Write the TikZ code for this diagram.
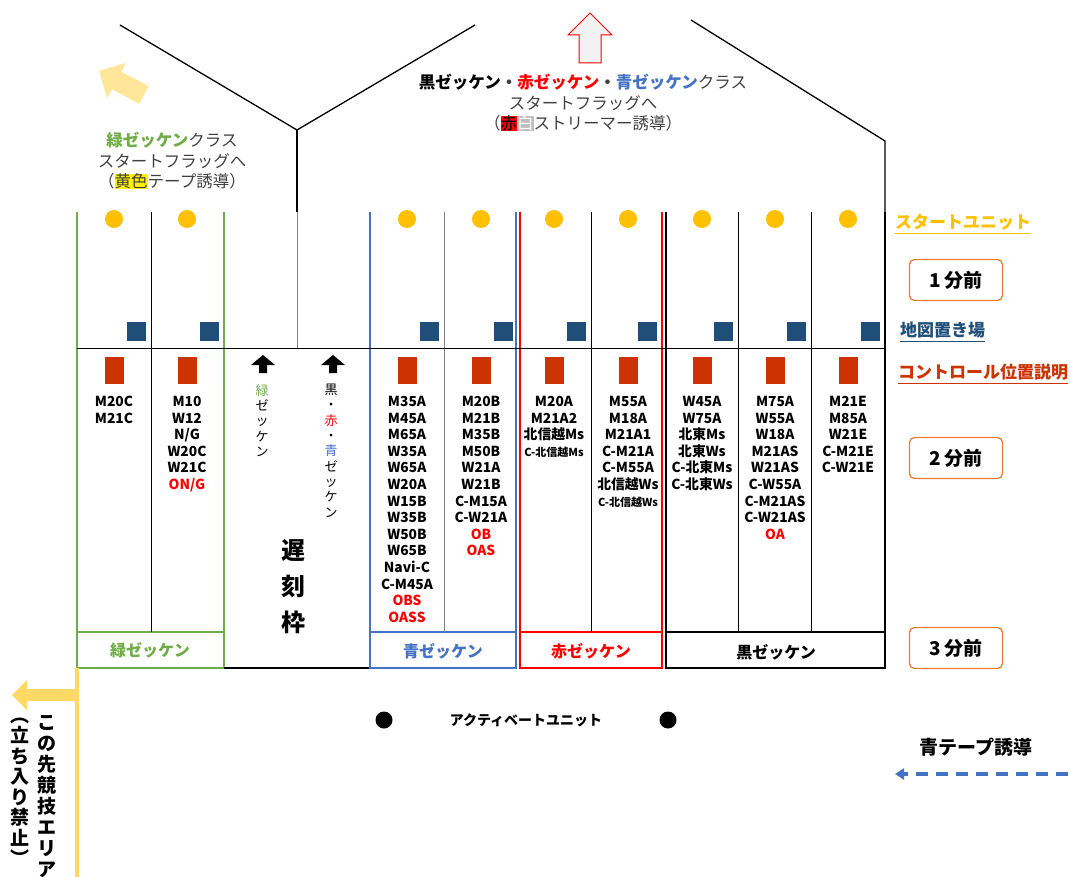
\documentclass[tikz,border=0pt]{standalone}
\usepackage{fontspec}
\setmainfont{Noto Sans CJK JP}
\usetikzlibrary{arrows.meta}
\definecolor{unityellow}{HTML}{FFC000}
\definecolor{mapnavy}{HTML}{1F4E79}
\definecolor{ctrlred}{HTML}{CC3300}
\definecolor{greenz}{HTML}{70AD47}
\definecolor{bluez}{HTML}{4472C4}
\definecolor{redz}{HTML}{FF0000}
\definecolor{minorange}{HTML}{ED7D31}
\definecolor{tapeyellow}{HTML}{FFD966}
\definecolor{flagyellow}{HTML}{FFE699}
\definecolor{textgray}{HTML}{404040}
\tikzset{
  unit/.style={circle,fill=unityellow,minimum size=18pt,inner sep=0pt},
  mapbox/.style={fill=mapnavy,minimum size=19pt,inner sep=0pt},
  ctrlbox/.style={fill=ctrlred,minimum width=19pt,minimum height=27pt,inner sep=0pt},
  classlist/.style={anchor=north,align=center,inner sep=0pt,font=\bfseries\fontsize{13.8}{16.6}\selectfont},
  minbox/.style={draw=minorange,line width=1.3pt,rounded corners=5pt,minimum width=93pt,minimum height=41pt,font=\bfseries\fontsize{19}{19}\selectfont},
  sidelabel/.style={anchor=west,inner sep=0pt,font=\bfseries\fontsize{17}{17}\selectfont},
  zlabel/.style={font=\bfseries\fontsize{16}{16}\selectfont},
  vtext/.style={anchor=north,align=center,inner sep=0pt,font=\fontsize{13}{15.3}\selectfont},
  wall/.style={line width=1.2pt}
}
\setlength{\fboxsep}{0pt}
\begin{document}
\begin{tikzpicture}[x=1pt,y=-1pt]
\useasboundingbox (0,0) rectangle (1070,877);

% roof and flag arrows
\draw[line width=1.3pt] (120,25) -- (297,130) -- (475,25);
\draw[line width=1.3pt] (297,130) -- (297,212);
\draw[line width=1.3pt] (691,20) -- (885,141) -- (885,212);
\filldraw[draw=redz,fill=black!5,line width=1pt] (590,13) -- (612,35) -- (601,35) -- (601,63) -- (579,63) -- (579,35) -- (568,35) -- cycle;
\fill[flagyellow] (99,71) -- (126,62.8) -- (121.3,71.6) -- (148.7,86.2) -- (139.3,103.8) -- (111.9,89.2) -- (107.2,98) -- cycle;

\node[align=center,font=\fontsize{16.5}{20.5}\selectfont,text=textgray] (greenflag) at (172,161)
  {\textbf{\textcolor{greenz}{緑ゼッケン}}クラス\\スタートフラッグへ\\（\colorbox{yellow}{黄色}テープ誘導）};
\node[align=center,font=\fontsize{16.5}{20.5}\selectfont,text=textgray] (mainflag) at (583,103)
  {\textbf{\textcolor{black}{黒ゼッケン}・\textcolor{redz}{赤ゼッケン}・\textcolor{bluez}{青ゼッケン}}クラス\\スタートフラッグへ\\（\colorbox{redz}{\textcolor{black}{赤}}\colorbox{black!25}{\textcolor{white}{白}}ストリーマー誘導）};

% lanes
\draw[greenz,wall] (77,212) -- (77,668) -- (224,668) -- (224,212);
\draw[greenz,wall] (77,632) -- (224,632);
\draw (151,212) -- (151,632);
\draw[gray] (297,212) -- (297,348);
\draw[wall] (224,668) -- (370,668);
\draw[bluez,wall] (370,212) -- (370,668) -- (516,668) -- (516,212);
\draw[bluez,wall] (370,632) -- (516,632);
\draw[gray] (444,212) -- (444,632);
\draw[redz,wall] (520,212) -- (520,668) -- (662,668) -- (662,212);
\draw[redz,wall] (520,632) -- (662,632);
\draw (591,212) -- (591,632);
\draw[wall] (666,212) -- (666,668) -- (885,668) -- (885,212);
\draw[wall] (666,632) -- (885,632);
\draw (738,212) -- (738,632);
\draw (811,212) -- (811,632);
\draw (77,348) -- (885,348);

\foreach \x/\n in {114/1,187/2,407/5,481/6,554/7,628/8,702/9,775/10,848/11}{
  \node[unit] (unit\n) at (\x,219) {};
  \node[ctrlbox] (ctrl\n) at (\x,370.5) {};
}
\foreach \x/\n in {146/1,219/2,439/5,513/6,586/7,657/8,733/9,806/10,880/11}
  \node[mapbox,anchor=north east] (map\n) at (\x,322) {};

% class lists
\node[classlist] (list1) at (114,396) {M20C\\M21C};
\node[classlist] (list2) at (187,396) {M10\\W12\\N/G\\W20C\\W21C\\\textcolor{redz}{ON/G}};
\node[classlist] (list5) at (407,396) {M35A\\M45A\\M65A\\W35A\\W65A\\W20A\\W15B\\W35B\\W50B\\W65B\\Navi-C\\C-M45A\\\textcolor{redz}{OBS}\\\textcolor{redz}{OASS}};
\node[classlist] (list6) at (481,396) {M20B\\M21B\\M35B\\M50B\\W21A\\W21B\\C-M15A\\C-W21A\\\textcolor{redz}{OB}\\\textcolor{redz}{OAS}};
\node[classlist] (list7) at (554,396) {M20A\\M21A2\\北信越Ms\\{\fontsize{11}{15}\selectfont C-北信越Ms}};
\node[classlist] (list8) at (628,396) {M55A\\M18A\\M21A1\\C-M21A\\C-M55A\\北信越Ws\\{\fontsize{11}{15}\selectfont C-北信越Ws}};
\node[classlist] (list9) at (702,396) {W45A\\W75A\\北東Ms\\北東Ws\\C-北東Ms\\C-北東Ws};
\node[classlist] (list10) at (775,396) {M75A\\W55A\\W18A\\M21AS\\W21AS\\C-W55A\\C-M21AS\\C-W21AS\\\textcolor{redz}{OA}};
\node[classlist] (list11) at (848,396) {M21E\\M85A\\W21E\\C-M21E\\C-W21E};

% late start lane
\fill (263,355) -- (275,365) -- (267,365) -- (267,373) -- (259,373) -- (259,365) -- (251,365) -- cycle;
\fill (333,355) -- (345,365) -- (337,365) -- (337,373) -- (329,373) -- (329,365) -- (321,365) -- cycle;
\node[vtext] (lategreen) at (262,384) {\textcolor{greenz}{緑}\\ゼ\\ッ\\ケ\\ン};
\node[vtext] (lateother) at (331,384) {黒\\・\\\textcolor{redz}{赤}\\・\\\textcolor{bluez}{青}\\ゼ\\ッ\\ケ\\ン};
\node[align=center,font=\bfseries\fontsize{24}{36}\selectfont] (late) at (293,587) {遅\\刻\\枠};

\node[zlabel,text=greenz] (greenlbl) at (150,650) {緑ゼッケン};
\node[zlabel,text=bluez] (bluelbl) at (443,651) {青ゼッケン};
\node[zlabel,text=redz] (redlbl) at (591,651) {赤ゼッケン};
\node[zlabel] (blacklbl) at (776,652) {黒ゼッケン};

% right side legend
\node[sidelabel,text=unityellow] (startunit) at (895,222) {スタートユニット};
\draw[unityellow,line width=1pt] ([yshift=-3pt]startunit.south west) -- ([yshift=-3pt]startunit.south east);
\node[sidelabel,text=mapnavy] (maplegend) at (900,330) {地図置き場};
\draw[mapnavy,line width=1pt] ([yshift=-3pt]maplegend.south west) -- ([yshift=-3pt]maplegend.south east);
\node[sidelabel,text=ctrlred] (ctrllegend) at (898,372) {コントロール位置説明};
\draw[ctrlred,line width=1pt] ([yshift=-3pt]ctrllegend.south west) -- ([yshift=-3pt]ctrllegend.south east);
\node[minbox] (min1) at (956,280) {1 分前};
\node[minbox] (min2) at (956,458) {2 分前};
\node[minbox] (min3) at (956,648) {3 分前};

% activate unit and guide tapes
\fill (384,720) circle (8.5) (668,720) circle (8.5);
\node[font=\bfseries\fontsize{14}{14}\selectfont] (activate) at (526,720) {アクティベートユニット};
\node[font=\bfseries\fontsize{19}{19}\selectfont] (bluetape) at (976,747) {青テープ誘導};
\coordinate (tapeS) at (1068,774);
\coordinate (tapeE) at (895,774);
\draw[bluez,line width=3.5pt,dash pattern=on 12pt off 8pt,-{Triangle[length=9pt,width=11pt]}] (tapeS) -- (tapeE);

\draw[tapeyellow,line width=4pt] (77,668) -- (77,877);
\fill[tapeyellow] (79,689) -- (27,689) -- (27,680) -- (12,695) -- (27,710) -- (27,701) -- (79,701) -- cycle;
\node[anchor=north,align=center,font=\bfseries\fontsize{19}{21}\selectfont] (noentry) at (47,712) {こ\\の\\先\\競\\技\\エ\\リ\\ア};
\node[anchor=north,align=center,font=\bfseries\fontsize{19}{20.5}\selectfont] (noentry2) at (20,714) {︵\\立\\ち\\入\\り\\禁\\止\\︶};
\end{tikzpicture}
\end{document}
